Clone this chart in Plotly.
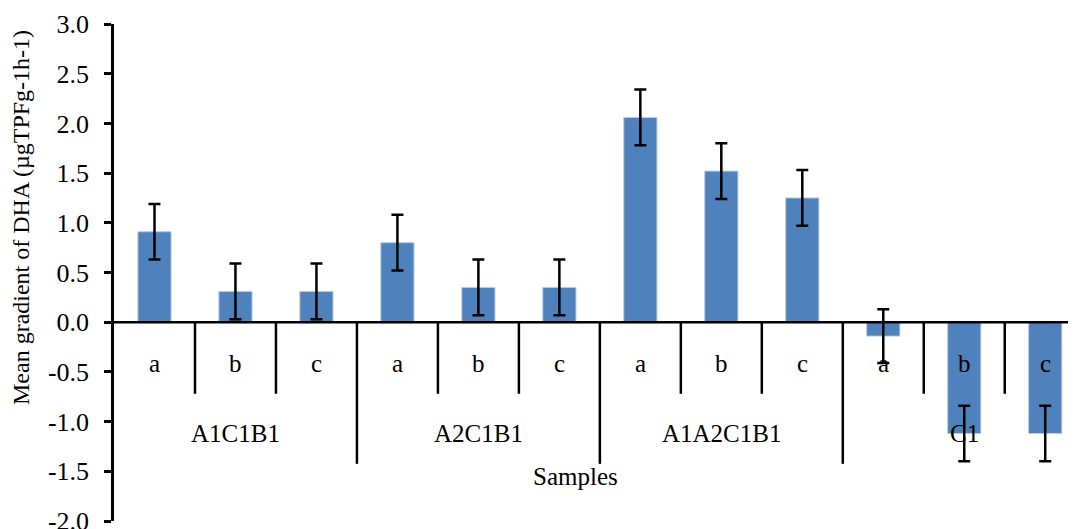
import plotly.graph_objects as go

groups = ["A1C1B1", "A2C1B1", "A1A2C1B1", "C1"]
subs = ["a", "b", "c"]
values = [0.91, 0.31, 0.31, 0.80, 0.35, 0.35, 2.06, 1.52, 1.25, -0.14, -1.12, -1.12]
errors = [0.28, 0.28, 0.28, 0.28, 0.28, 0.28, 0.28, 0.28, 0.28, 0.27, 0.28, 0.28]
ytick_vals = [-2.0, -1.5, -1.0, -0.5, 0.0, 0.5, 1.0, 1.5, 2.0, 2.5, 3.0]
ytick_text = ["-2.0", "-1.5", "-1.0", "-0.5", "0.0", "0.5", "1.0", "1.5", "2.0", "2.5", "3.0"]
y_title = "Mean gradient of DHA (µgTPFg-1h-1)"
x_title = "Samples"

FONT = "Liberation Serif"
n = len(values)
xs = list(range(n))

fig = go.Figure()
fig.add_trace(go.Bar(
    x=xs, y=values, width=0.41,
    marker=dict(color="#4F81BD", line=dict(color="#B9CDE5", width=1)),
    error_y=dict(type="data", array=errors, visible=True, color="black", thickness=2.5, width=6),
    showlegend=False,
))

shapes = []
shapes.append(dict(type="line", xref="x", yref="y", x0=-0.5, x1=11.5, y0=0, y1=0,
                   line=dict(color="black", width=2.5), layer="above"))
annotations = []
for gi, g in enumerate(groups):
    start = gi * len(subs)
    if gi > 0:
        shapes.append(dict(type="line", xref="x", yref="y", x0=start - 0.5, x1=start - 0.5,
                           y0=0, y1=-1.425, line=dict(color="black", width=2.5)))
    for si, s in enumerate(subs):
        i = start + si
        if si > 0:
            shapes.append(dict(type="line", xref="x", yref="y", x0=i - 0.5, x1=i - 0.5,
                               y0=0, y1=-0.72, line=dict(color="black", width=2.5)))
        annotations.append(dict(x=i, y=-0.42, xref="x", yref="y", text=s, showarrow=False,
                                font=dict(family=FONT, size=25, color="black"),
                                xanchor="center", yanchor="middle"))
    annotations.append(dict(x=start + 1, y=-1.12, xref="x", yref="y", text=g, showarrow=False,
                            font=dict(family=FONT, size=25, color="black"),
                            xanchor="center", yanchor="middle"))

annotations.append(dict(x=5.2, y=-1.55, xref="x", yref="y", text=x_title, showarrow=False,
                        font=dict(family=FONT, size=25, color="black"),
                        xanchor="center", yanchor="middle"))
annotations.append(dict(x=-93 / 962, y=(513 - 210) / 497, xref="paper", yref="paper",
                        text=y_title, showarrow=False, textangle=-90,
                        font=dict(family=FONT, size=24, color="black"),
                        xanchor="center", yanchor="middle"))

fig.update_layout(
    width=1068, height=521,
    margin=dict(l=106, r=0, t=16, b=8, autoexpand=False),
    font=dict(family=FONT, color="black"),
    paper_bgcolor="white", plot_bgcolor="white",
    xaxis=dict(range=[-0.5, 11.38], showticklabels=False, showgrid=False, zeroline=False,
               showline=False, ticks="", automargin=False),
    yaxis=dict(range=[-2.0, 3.0], tickvals=ytick_vals, ticktext=ytick_text,
               showgrid=False, zeroline=False, showline=True, linecolor="black", linewidth=2.5,
               ticks="outside", ticklen=7, tickwidth=2.5, tickcolor="black",
               ticklabelstandoff=10, ticklabeloverflow="allow", automargin=False,
               tickfont=dict(family=FONT, size=26, color="black")),
    shapes=shapes, annotations=annotations,
    bargap=0.5,
)

fig.write_html("out.html")
